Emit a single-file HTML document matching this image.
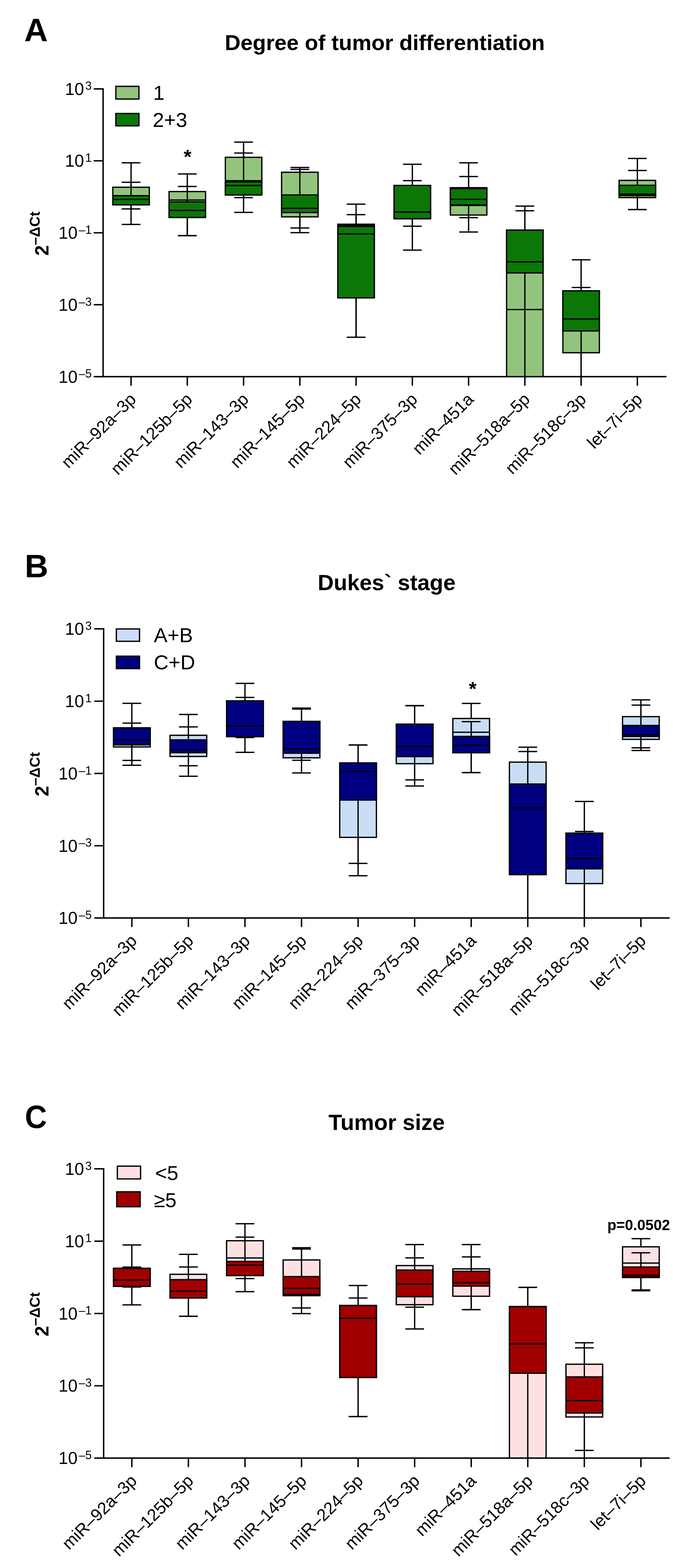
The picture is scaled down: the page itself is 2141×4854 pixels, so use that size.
<!DOCTYPE html>
<html><head><meta charset="utf-8"><title>Box plots</title>
<style>
html,body{margin:0;padding:0;background:#fff;}
body{width:2141px;height:4854px;overflow:hidden;}
svg{display:block;}
</style></head>
<body>
<svg width="2141" height="4854" viewBox="0 0 2141 4854" font-family="'Liberation Sans', Arial, Helvetica, sans-serif" fill="#000">
<rect width="2141" height="4854" fill="#fff"/>
<clipPath id="clipA"><rect x="319" y="0" width="1743" height="1166"/></clipPath>
<g clip-path="url(#clipA)">
<path d="M405.5 579.6V564.2M405.5 634.1V646.7" stroke="#000" stroke-width="4" fill="none"/>
<path d="M376.5 564.2H434.5M376.5 646.7H434.5" stroke="#000" stroke-width="4" fill="none"/>
<rect x="349.1" y="579.6" width="112.9" height="54.5" fill="#93C47D" stroke="#000" stroke-width="4"/>
<path d="M405.5 605.8V504.1M405.5 634.1V694.8" stroke="#000" stroke-width="4" fill="none"/>
<path d="M376.5 504.1H434.5M376.5 694.8H434.5" stroke="#000" stroke-width="4" fill="none"/>
<rect x="349.1" y="605.8" width="112.9" height="28.3" fill="#0B7707" stroke="#000" stroke-width="4"/>
<path d="M349.1 617.2H461.9" stroke="#000" stroke-width="4"/>
<path d="M579.5 593V577.3M579.5 673.2V729.4" stroke="#000" stroke-width="4" fill="none"/>
<path d="M550.5 577.3H608.5M550.5 729.4H608.5" stroke="#000" stroke-width="4" fill="none"/>
<rect x="523.1" y="593" width="112.9" height="80.2" fill="#93C47D" stroke="#000" stroke-width="4"/>
<path d="M523.1 619.3H636" stroke="#000" stroke-width="4"/>
<path d="M579.5 625V538.5M579.5 673.2V729.4" stroke="#000" stroke-width="4" fill="none"/>
<path d="M550.5 538.5H608.5M550.5 729.4H608.5" stroke="#000" stroke-width="4" fill="none"/>
<rect x="523.1" y="625" width="112.9" height="48.2" fill="#0B7707" stroke="#000" stroke-width="4"/>
<path d="M523.1 651.5H636" stroke="#000" stroke-width="4"/>
<path d="M753.6 487V473.8M753.6 603.5V611.8" stroke="#000" stroke-width="4" fill="none"/>
<path d="M724.6 473.8H782.6M724.6 611.8H782.6" stroke="#000" stroke-width="4" fill="none"/>
<rect x="697.2" y="487" width="112.9" height="116.5" fill="#93C47D" stroke="#000" stroke-width="4"/>
<path d="M697.2 559.5H810" stroke="#000" stroke-width="4"/>
<path d="M753.6 563V439.9M753.6 603.5V657.4" stroke="#000" stroke-width="4" fill="none"/>
<path d="M724.6 439.9H782.6M724.6 657.4H782.6" stroke="#000" stroke-width="4" fill="none"/>
<rect x="697.2" y="563" width="112.9" height="40.5" fill="#0B7707" stroke="#000" stroke-width="4"/>
<path d="M697.2 574.2H810" stroke="#000" stroke-width="4"/>
<path d="M927.7 533.2V524.6M927.7 671.3V705.8" stroke="#000" stroke-width="4" fill="none"/>
<path d="M898.7 524.6H956.7M898.7 705.8H956.7" stroke="#000" stroke-width="4" fill="none"/>
<rect x="871.2" y="533.2" width="112.9" height="138.1" fill="#93C47D" stroke="#000" stroke-width="4"/>
<path d="M927.7 603.5V518.5M927.7 658V720.3" stroke="#000" stroke-width="4" fill="none"/>
<path d="M898.7 518.5H956.7M898.7 720.3H956.7" stroke="#000" stroke-width="4" fill="none"/>
<rect x="871.2" y="603.5" width="112.9" height="54.5" fill="#0B7707" stroke="#000" stroke-width="4"/>
<path d="M871.2 645.1H984.1" stroke="#000" stroke-width="4"/>
<path d="M1101.7 694.1V664.4M1101.7 922.1V1043.9" stroke="#000" stroke-width="4" fill="none"/>
<path d="M1072.7 664.4H1130.7M1072.7 1043.9H1130.7" stroke="#000" stroke-width="4" fill="none"/>
<rect x="1045.3" y="694.1" width="112.9" height="228" fill="#93C47D" stroke="#000" stroke-width="4"/>
<path d="M1045.3 697.5H1158.1" stroke="#000" stroke-width="4"/>
<path d="M1101.7 700.8V631.9M1101.7 922.1V1043.9" stroke="#000" stroke-width="4" fill="none"/>
<path d="M1072.7 631.9H1130.7M1072.7 1043.9H1130.7" stroke="#000" stroke-width="4" fill="none"/>
<rect x="1045.3" y="700.8" width="112.9" height="221.3" fill="#0B7707" stroke="#000" stroke-width="4"/>
<path d="M1045.3 724H1158.1" stroke="#000" stroke-width="4"/>
<path d="M1275.8 574V559.2M1275.8 677.2V700.3" stroke="#000" stroke-width="4" fill="none"/>
<path d="M1246.8 559.2H1304.8M1246.8 700.3H1304.8" stroke="#000" stroke-width="4" fill="none"/>
<rect x="1219.3" y="574" width="112.9" height="103.2" fill="#93C47D" stroke="#000" stroke-width="4"/>
<path d="M1275.8 574V508.4M1275.8 677.2V774.3" stroke="#000" stroke-width="4" fill="none"/>
<path d="M1246.8 508.4H1304.8M1246.8 774.3H1304.8" stroke="#000" stroke-width="4" fill="none"/>
<rect x="1219.3" y="574" width="112.9" height="103.2" fill="#0B7707" stroke="#000" stroke-width="4"/>
<path d="M1219.3 656.6H1332.2" stroke="#000" stroke-width="4"/>
<path d="M1449.8 581V546.4M1449.8 665.7V673.8" stroke="#000" stroke-width="4" fill="none"/>
<path d="M1420.8 546.4H1478.8M1420.8 673.8H1478.8" stroke="#000" stroke-width="4" fill="none"/>
<rect x="1393.4" y="581" width="112.9" height="84.7" fill="#93C47D" stroke="#000" stroke-width="4"/>
<path d="M1393.4 636H1506.2" stroke="#000" stroke-width="4"/>
<path d="M1449.8 584V504M1449.8 634.5V718.3" stroke="#000" stroke-width="4" fill="none"/>
<path d="M1420.8 504H1478.8M1420.8 718.3H1478.8" stroke="#000" stroke-width="4" fill="none"/>
<rect x="1393.4" y="584" width="112.9" height="50.5" fill="#0B7707" stroke="#000" stroke-width="4"/>
<path d="M1393.4 616.9H1506.2" stroke="#000" stroke-width="4"/>
<path d="M1623.9 712.4V652.4M1623.9 1200V1200" stroke="#000" stroke-width="4" fill="none"/>
<path d="M1594.9 652.4H1652.9" stroke="#000" stroke-width="4" fill="none"/>
<rect x="1567.4" y="712.4" width="112.9" height="487.6" fill="#93C47D" stroke="#000" stroke-width="4"/>
<path d="M1567.4 958.3H1680.3" stroke="#000" stroke-width="4"/>
<path d="M1623.9 712.4V637.9M1623.9 844.9V1200" stroke="#000" stroke-width="4" fill="none"/>
<path d="M1594.9 637.9H1652.9" stroke="#000" stroke-width="4" fill="none"/>
<rect x="1567.4" y="712.4" width="112.9" height="132.5" fill="#0B7707" stroke="#000" stroke-width="4"/>
<path d="M1567.4 810.4H1680.3" stroke="#000" stroke-width="4"/>
<path d="M1797.9 900.4V889.9M1797.9 1092V1200" stroke="#000" stroke-width="4" fill="none"/>
<path d="M1768.9 889.9H1826.9" stroke="#000" stroke-width="4" fill="none"/>
<rect x="1741.5" y="900.4" width="112.9" height="191.6" fill="#93C47D" stroke="#000" stroke-width="4"/>
<path d="M1797.9 900.4V804.2M1797.9 1024.5V1200" stroke="#000" stroke-width="4" fill="none"/>
<path d="M1768.9 804.2H1826.9" stroke="#000" stroke-width="4" fill="none"/>
<rect x="1741.5" y="900.4" width="112.9" height="124.1" fill="#0B7707" stroke="#000" stroke-width="4"/>
<path d="M1741.5 987.6H1854.3" stroke="#000" stroke-width="4"/>
<path d="M1972 558.4V527.8M1972 611.7V648.8" stroke="#000" stroke-width="4" fill="none"/>
<path d="M1943 527.8H2001M1943 648.8H2001" stroke="#000" stroke-width="4" fill="none"/>
<rect x="1915.5" y="558.4" width="112.9" height="53.3" fill="#93C47D" stroke="#000" stroke-width="4"/>
<path d="M1972 573.7V490.4M1972 605.5V648.8" stroke="#000" stroke-width="4" fill="none"/>
<path d="M1943 490.4H2001M1943 648.8H2001" stroke="#000" stroke-width="4" fill="none"/>
<rect x="1915.5" y="573.7" width="112.9" height="31.8" fill="#0B7707" stroke="#000" stroke-width="4"/>
<path d="M1915.5 601H2028.4" stroke="#000" stroke-width="4"/>
</g>
<path d="M319 273V1166H2062" stroke="#000" stroke-width="4.4" fill="none"/>
<text x="283.7" y="293.7" text-anchor="end" font-size="53">10<tspan font-size="36" dx="3.6" dy="-15.3">3</tspan></text>
<text x="283.7" y="516.4" text-anchor="end" font-size="53">10<tspan font-size="36" dx="3.6" dy="-15.3">1</tspan></text>
<text x="283.7" y="739.1" text-anchor="end" font-size="53">10<tspan font-size="36" dx="3.6" dy="-15.3">–1</tspan></text>
<text x="283.7" y="961.8" text-anchor="end" font-size="53">10<tspan font-size="36" dx="3.6" dy="-15.3">–3</tspan></text>
<text x="283.7" y="1184.5" text-anchor="end" font-size="53">10<tspan font-size="36" dx="3.6" dy="-15.3">–5</tspan></text>
<path d="M290 275.2H319M290 497.9H319M290 720.6H319M290 943.3H319M290 1166H319M405.5 1166V1194M579.5 1166V1194M753.6 1166V1194M927.7 1166V1194M1101.7 1166V1194M1275.8 1166V1194M1449.8 1166V1194M1623.9 1166V1194M1797.9 1166V1194M1972 1166V1194" stroke="#000" stroke-width="4.4" fill="none"/>
<text transform="translate(424.2 1239.5) rotate(-45)" text-anchor="end" font-size="53">miR–92a–3p</text>
<text transform="translate(598.2 1239.5) rotate(-45)" text-anchor="end" font-size="53">miR–125b–5p</text>
<text transform="translate(772.3 1239.5) rotate(-45)" text-anchor="end" font-size="53">miR–143–3p</text>
<text transform="translate(946.4 1239.5) rotate(-45)" text-anchor="end" font-size="53">miR–145–5p</text>
<text transform="translate(1120.4 1239.5) rotate(-45)" text-anchor="end" font-size="53">miR–224–5p</text>
<text transform="translate(1294.5 1239.5) rotate(-45)" text-anchor="end" font-size="53">miR–375–3p</text>
<text transform="translate(1468.5 1239.5) rotate(-45)" text-anchor="end" font-size="53">miR–451a</text>
<text transform="translate(1642.6 1239.5) rotate(-45)" text-anchor="end" font-size="53">miR–518a–5p</text>
<text transform="translate(1816.6 1239.5) rotate(-45)" text-anchor="end" font-size="53">miR–518c–3p</text>
<text transform="translate(1990.7 1239.5) rotate(-45)" text-anchor="end" font-size="53">let–7i–5p</text>
<text transform="translate(149.5 723.1) rotate(-90)" text-anchor="middle" font-size="58.5" font-weight="bold">2<tspan font-size="44.7" dy="-26.8">–ΔCt</tspan></text>
<text x="1190.5" y="154.8" text-anchor="middle" font-size="67.5" font-weight="bold">Degree of tumor differentiation</text>
<text transform="translate(75 127.9) scale(1.0 1)" font-size="101" font-weight="bold">A</text>
<rect x="358.4" y="267.3" width="71.5" height="39.3" fill="#93C47D" stroke="#000" stroke-width="4"/>
<text x="474" y="309.4" font-size="63">1</text>
<rect x="358.4" y="351.3" width="71.5" height="38.2" fill="#0B7707" stroke="#000" stroke-width="4"/>
<text x="472.5" y="393" font-size="63">2+3</text>
<clipPath id="clipB"><rect x="320.7" y="0" width="1751.3" height="2841.8"/></clipPath>
<g clip-path="url(#clipB)">
<path d="M407.9 2253.1V2238.6M407.9 2312.3V2353.9" stroke="#000" stroke-width="4" fill="none"/>
<path d="M378.9 2238.6H436.9M378.9 2353.9H436.9" stroke="#000" stroke-width="4" fill="none"/>
<rect x="351.1" y="2253.1" width="113.5" height="59.2" fill="#C9DDF6" stroke="#000" stroke-width="4"/>
<path d="M407.9 2253.1V2177.3M407.9 2305.8V2369" stroke="#000" stroke-width="4" fill="none"/>
<path d="M378.9 2177.3H436.9M378.9 2369H436.9" stroke="#000" stroke-width="4" fill="none"/>
<rect x="351.1" y="2253.1" width="113.5" height="52.7" fill="#000080" stroke="#000" stroke-width="4"/>
<path d="M351.1 2291H464.7" stroke="#000" stroke-width="4"/>
<path d="M582.9 2276.2V2250.3M582.9 2341.8V2370.5" stroke="#000" stroke-width="4" fill="none"/>
<path d="M553.9 2250.3H611.9M553.9 2370.5H611.9" stroke="#000" stroke-width="4" fill="none"/>
<rect x="526.1" y="2276.2" width="113.5" height="65.6" fill="#C9DDF6" stroke="#000" stroke-width="4"/>
<path d="M582.9 2290.4V2211.8M582.9 2330.1V2403.1" stroke="#000" stroke-width="4" fill="none"/>
<path d="M553.9 2211.8H611.9M553.9 2403.1H611.9" stroke="#000" stroke-width="4" fill="none"/>
<rect x="526.1" y="2290.4" width="113.5" height="39.7" fill="#000080" stroke="#000" stroke-width="4"/>
<path d="M526.1 2321.5H639.7" stroke="#000" stroke-width="4"/>
<path d="M757.9 2169.7V2158.9M757.9 2280.3V2283.3" stroke="#000" stroke-width="4" fill="none"/>
<path d="M728.9 2158.9H786.9M728.9 2283.3H786.9" stroke="#000" stroke-width="4" fill="none"/>
<rect x="701.1" y="2169.7" width="113.5" height="110.6" fill="#C9DDF6" stroke="#000" stroke-width="4"/>
<path d="M757.9 2169.7V2115.4M757.9 2280.3V2329" stroke="#000" stroke-width="4" fill="none"/>
<path d="M728.9 2115.4H786.9M728.9 2329H786.9" stroke="#000" stroke-width="4" fill="none"/>
<rect x="701.1" y="2169.7" width="113.5" height="110.6" fill="#000080" stroke="#000" stroke-width="4"/>
<path d="M701.1 2247.6H814.7" stroke="#000" stroke-width="4"/>
<path d="M932.9 2233.1V2195M932.9 2345.9V2353.6" stroke="#000" stroke-width="4" fill="none"/>
<path d="M903.9 2195H961.9M903.9 2353.6H961.9" stroke="#000" stroke-width="4" fill="none"/>
<rect x="876.1" y="2233.1" width="113.5" height="112.8" fill="#C9DDF6" stroke="#000" stroke-width="4"/>
<path d="M932.9 2233.1V2192M932.9 2331.7V2392.7" stroke="#000" stroke-width="4" fill="none"/>
<path d="M903.9 2192H961.9M903.9 2392.7H961.9" stroke="#000" stroke-width="4" fill="none"/>
<rect x="876.1" y="2233.1" width="113.5" height="98.6" fill="#000080" stroke="#000" stroke-width="4"/>
<path d="M876.1 2318.8H989.7" stroke="#000" stroke-width="4"/>
<path d="M1107.9 2361.8V2306.3M1107.9 2592.2V2672.7" stroke="#000" stroke-width="4" fill="none"/>
<path d="M1078.9 2306.3H1136.9M1078.9 2672.7H1136.9" stroke="#000" stroke-width="4" fill="none"/>
<rect x="1051.1" y="2361.8" width="113.5" height="230.4" fill="#C9DDF6" stroke="#000" stroke-width="4"/>
<path d="M1107.9 2361.8V2306.3M1107.9 2476.7V2710.9" stroke="#000" stroke-width="4" fill="none"/>
<path d="M1078.9 2306.3H1136.9M1078.9 2710.9H1136.9" stroke="#000" stroke-width="4" fill="none"/>
<rect x="1051.1" y="2361.8" width="113.5" height="114.9" fill="#000080" stroke="#000" stroke-width="4"/>
<path d="M1051.1 2387.9H1164.7" stroke="#000" stroke-width="4"/>
<path d="M1282.9 2241.8V2184.4M1282.9 2364.1V2414.3" stroke="#000" stroke-width="4" fill="none"/>
<path d="M1253.9 2184.4H1311.9M1253.9 2414.3H1311.9" stroke="#000" stroke-width="4" fill="none"/>
<rect x="1226.1" y="2241.8" width="113.5" height="122.3" fill="#C9DDF6" stroke="#000" stroke-width="4"/>
<path d="M1282.9 2241.8V2184.4M1282.9 2342.2V2433.2" stroke="#000" stroke-width="4" fill="none"/>
<path d="M1253.9 2184.4H1311.9M1253.9 2433.2H1311.9" stroke="#000" stroke-width="4" fill="none"/>
<rect x="1226.1" y="2241.8" width="113.5" height="100.4" fill="#000080" stroke="#000" stroke-width="4"/>
<path d="M1226.1 2311.1H1339.7" stroke="#000" stroke-width="4"/>
<path d="M1457.9 2224.2V2177.4M1457.9 2330.2V2391.8" stroke="#000" stroke-width="4" fill="none"/>
<path d="M1428.9 2177.4H1486.9M1428.9 2391.8H1486.9" stroke="#000" stroke-width="4" fill="none"/>
<rect x="1401.1" y="2224.2" width="113.5" height="106" fill="#C9DDF6" stroke="#000" stroke-width="4"/>
<path d="M1401.1 2266.7H1514.7" stroke="#000" stroke-width="4"/>
<path d="M1457.9 2279.7V2234.1M1457.9 2330.2V2391.8" stroke="#000" stroke-width="4" fill="none"/>
<path d="M1428.9 2234.1H1486.9M1428.9 2391.8H1486.9" stroke="#000" stroke-width="4" fill="none"/>
<rect x="1401.1" y="2279.7" width="113.5" height="50.5" fill="#000080" stroke="#000" stroke-width="4"/>
<path d="M1401.1 2307.1H1514.7" stroke="#000" stroke-width="4"/>
<path d="M1632.9 2359.3V2313.1M1632.9 2707.5V2900" stroke="#000" stroke-width="4" fill="none"/>
<path d="M1603.9 2313.1H1661.9" stroke="#000" stroke-width="4" fill="none"/>
<rect x="1576.1" y="2359.3" width="113.5" height="348.2" fill="#C9DDF6" stroke="#000" stroke-width="4"/>
<path d="M1632.9 2427.1V2326.4M1632.9 2707.5V2900" stroke="#000" stroke-width="4" fill="none"/>
<path d="M1603.9 2326.4H1661.9" stroke="#000" stroke-width="4" fill="none"/>
<rect x="1576.1" y="2427.1" width="113.5" height="280.4" fill="#000080" stroke="#000" stroke-width="4"/>
<path d="M1576.1 2500.4H1689.7" stroke="#000" stroke-width="4"/>
<path d="M1807.9 2579V2481M1807.9 2735.2V2900" stroke="#000" stroke-width="4" fill="none"/>
<path d="M1778.9 2481H1836.9" stroke="#000" stroke-width="4" fill="none"/>
<rect x="1751.1" y="2579" width="113.5" height="156.2" fill="#C9DDF6" stroke="#000" stroke-width="4"/>
<path d="M1807.9 2579V2574.1M1807.9 2689.6V2900" stroke="#000" stroke-width="4" fill="none"/>
<path d="M1778.9 2574.1H1836.9" stroke="#000" stroke-width="4" fill="none"/>
<rect x="1751.1" y="2579" width="113.5" height="110.6" fill="#000080" stroke="#000" stroke-width="4"/>
<path d="M1751.1 2658.2H1864.7" stroke="#000" stroke-width="4"/>
<path d="M1982.9 2218.5V2166.4M1982.9 2288.8V2315" stroke="#000" stroke-width="4" fill="none"/>
<path d="M1953.9 2166.4H2011.9M1953.9 2315H2011.9" stroke="#000" stroke-width="4" fill="none"/>
<rect x="1926.1" y="2218.5" width="113.5" height="70.3" fill="#C9DDF6" stroke="#000" stroke-width="4"/>
<path d="M1982.9 2245.8V2182.7M1982.9 2280V2323.3" stroke="#000" stroke-width="4" fill="none"/>
<path d="M1953.9 2182.7H2011.9M1953.9 2323.3H2011.9" stroke="#000" stroke-width="4" fill="none"/>
<rect x="1926.1" y="2245.8" width="113.5" height="34.2" fill="#000080" stroke="#000" stroke-width="4"/>
<path d="M1926.1 2274H2039.7" stroke="#000" stroke-width="4"/>
</g>
<path d="M320.7 1944.6V2841.8H2072" stroke="#000" stroke-width="4.4" fill="none"/>
<text x="283.7" y="1965.3" text-anchor="end" font-size="53">10<tspan font-size="36" dx="3.6" dy="-15.3">3</tspan></text>
<text x="283.7" y="2189.1" text-anchor="end" font-size="53">10<tspan font-size="36" dx="3.6" dy="-15.3">1</tspan></text>
<text x="283.7" y="2412.8" text-anchor="end" font-size="53">10<tspan font-size="36" dx="3.6" dy="-15.3">–1</tspan></text>
<text x="283.7" y="2636.6" text-anchor="end" font-size="53">10<tspan font-size="36" dx="3.6" dy="-15.3">–3</tspan></text>
<text x="283.7" y="2860.3" text-anchor="end" font-size="53">10<tspan font-size="36" dx="3.6" dy="-15.3">–5</tspan></text>
<path d="M291.7 1946.8H320.7M291.7 2170.6H320.7M291.7 2394.3H320.7M291.7 2618.1H320.7M291.7 2841.8H320.7M407.9 2841.8V2869.8M582.9 2841.8V2869.8M757.9 2841.8V2869.8M932.9 2841.8V2869.8M1107.9 2841.8V2869.8M1282.9 2841.8V2869.8M1457.9 2841.8V2869.8M1632.9 2841.8V2869.8M1807.9 2841.8V2869.8M1982.9 2841.8V2869.8" stroke="#000" stroke-width="4.4" fill="none"/>
<text transform="translate(426.6 2915.3) rotate(-45)" text-anchor="end" font-size="53">miR–92a–3p</text>
<text transform="translate(601.6 2915.3) rotate(-45)" text-anchor="end" font-size="53">miR–125b–5p</text>
<text transform="translate(776.6 2915.3) rotate(-45)" text-anchor="end" font-size="53">miR–143–3p</text>
<text transform="translate(951.6 2915.3) rotate(-45)" text-anchor="end" font-size="53">miR–145–5p</text>
<text transform="translate(1126.6 2915.3) rotate(-45)" text-anchor="end" font-size="53">miR–224–5p</text>
<text transform="translate(1301.6 2915.3) rotate(-45)" text-anchor="end" font-size="53">miR–375–3p</text>
<text transform="translate(1476.6 2915.3) rotate(-45)" text-anchor="end" font-size="53">miR–451a</text>
<text transform="translate(1651.6 2915.3) rotate(-45)" text-anchor="end" font-size="53">miR–518a–5p</text>
<text transform="translate(1826.6 2915.3) rotate(-45)" text-anchor="end" font-size="53">miR–518c–3p</text>
<text transform="translate(2001.6 2915.3) rotate(-45)" text-anchor="end" font-size="53">let–7i–5p</text>
<text transform="translate(149.5 2396.8) rotate(-90)" text-anchor="middle" font-size="58.5" font-weight="bold">2<tspan font-size="44.7" dy="-26.8">–ΔCt</tspan></text>
<text x="1196.3" y="1826.9" text-anchor="middle" font-size="68.5" font-weight="bold">Dukes` stage</text>
<text transform="translate(76.5 1787.3) scale(1.0 1)" font-size="101" font-weight="bold">B</text>
<rect x="360" y="1947.1" width="71.7" height="38.2" fill="#C9DDF6" stroke="#000" stroke-width="4"/>
<text x="476" y="1988.4" font-size="63">A+B</text>
<rect x="360" y="2031.3" width="71.7" height="38.5" fill="#000080" stroke="#000" stroke-width="4"/>
<text x="476" y="2072.2" font-size="63">C+D</text>
<clipPath id="clipC"><rect x="320.7" y="0" width="1751.3" height="4513.8"/></clipPath>
<g clip-path="url(#clipC)">
<path d="M407.9 3926.3V3922.6M407.9 3982.1V3984.2" stroke="#000" stroke-width="4" fill="none"/>
<path d="M378.9 3922.6H436.9M378.9 3984.2H436.9" stroke="#000" stroke-width="4" fill="none"/>
<rect x="351.1" y="3926.3" width="113.5" height="55.8" fill="#FDE1E2" stroke="#000" stroke-width="4"/>
<path d="M407.9 3926.3V3853.9M407.9 3982.1V4039.4" stroke="#000" stroke-width="4" fill="none"/>
<path d="M378.9 3853.9H436.9M378.9 4039.4H436.9" stroke="#000" stroke-width="4" fill="none"/>
<rect x="351.1" y="3926.3" width="113.5" height="55.8" fill="#A00000" stroke="#000" stroke-width="4"/>
<path d="M351.1 3962.4H464.7" stroke="#000" stroke-width="4"/>
<path d="M582.9 3944.8V3922.3M582.9 4018.1V4074.8" stroke="#000" stroke-width="4" fill="none"/>
<path d="M553.9 3922.3H611.9M553.9 4074.8H611.9" stroke="#000" stroke-width="4" fill="none"/>
<rect x="526.1" y="3944.8" width="113.5" height="73.3" fill="#FDE1E2" stroke="#000" stroke-width="4"/>
<path d="M582.9 3961.4V3882.9M582.9 4018.1V4074.8" stroke="#000" stroke-width="4" fill="none"/>
<path d="M553.9 3882.9H611.9M553.9 4074.8H611.9" stroke="#000" stroke-width="4" fill="none"/>
<rect x="526.1" y="3961.4" width="113.5" height="56.7" fill="#A00000" stroke="#000" stroke-width="4"/>
<path d="M526.1 3997.2H639.7" stroke="#000" stroke-width="4"/>
<path d="M757.9 3840.9V3829.8M757.9 3948.7V3958" stroke="#000" stroke-width="4" fill="none"/>
<path d="M728.9 3829.8H786.9M728.9 3958H786.9" stroke="#000" stroke-width="4" fill="none"/>
<rect x="701.1" y="3840.9" width="113.5" height="107.8" fill="#FDE1E2" stroke="#000" stroke-width="4"/>
<path d="M701.1 3894.2H814.7" stroke="#000" stroke-width="4"/>
<path d="M757.9 3905V3788.2M757.9 3948.7V3998.6" stroke="#000" stroke-width="4" fill="none"/>
<path d="M728.9 3788.2H786.9M728.9 3998.6H786.9" stroke="#000" stroke-width="4" fill="none"/>
<rect x="701.1" y="3905" width="113.5" height="43.7" fill="#A00000" stroke="#000" stroke-width="4"/>
<path d="M701.1 3916.7H814.7" stroke="#000" stroke-width="4"/>
<path d="M932.9 3900.4V3862.5M932.9 4011V4048.9" stroke="#000" stroke-width="4" fill="none"/>
<path d="M903.9 3862.5H961.9M903.9 4048.9H961.9" stroke="#000" stroke-width="4" fill="none"/>
<rect x="876.1" y="3900.4" width="113.5" height="110.6" fill="#FDE1E2" stroke="#000" stroke-width="4"/>
<path d="M932.9 3951.8V3866.5M932.9 4007V4066.4" stroke="#000" stroke-width="4" fill="none"/>
<path d="M903.9 3866.5H961.9M903.9 4066.4H961.9" stroke="#000" stroke-width="4" fill="none"/>
<rect x="876.1" y="3951.8" width="113.5" height="55.2" fill="#A00000" stroke="#000" stroke-width="4"/>
<path d="M876.1 3988.2H989.7" stroke="#000" stroke-width="4"/>
<path d="M1107.9 4041.4V4018.3M1107.9 4264.2V4385.2" stroke="#000" stroke-width="4" fill="none"/>
<path d="M1078.9 4018.3H1136.9M1078.9 4385.2H1136.9" stroke="#000" stroke-width="4" fill="none"/>
<rect x="1051.1" y="4041.4" width="113.5" height="222.8" fill="#FDE1E2" stroke="#000" stroke-width="4"/>
<path d="M1107.9 4041.4V3979.4M1107.9 4264.2V4385.2" stroke="#000" stroke-width="4" fill="none"/>
<path d="M1078.9 3979.4H1136.9M1078.9 4385.2H1136.9" stroke="#000" stroke-width="4" fill="none"/>
<rect x="1051.1" y="4041.4" width="113.5" height="222.8" fill="#A00000" stroke="#000" stroke-width="4"/>
<path d="M1051.1 4081.1H1164.7" stroke="#000" stroke-width="4"/>
<path d="M1282.9 3917.8V3894.1M1282.9 4038.9V4046.6" stroke="#000" stroke-width="4" fill="none"/>
<path d="M1253.9 3894.1H1311.9M1253.9 4046.6H1311.9" stroke="#000" stroke-width="4" fill="none"/>
<rect x="1226.1" y="3917.8" width="113.5" height="121.1" fill="#FDE1E2" stroke="#000" stroke-width="4"/>
<path d="M1282.9 3931.7V3852.8M1282.9 4014.2V4114.1" stroke="#000" stroke-width="4" fill="none"/>
<path d="M1253.9 3852.8H1311.9M1253.9 4114.1H1311.9" stroke="#000" stroke-width="4" fill="none"/>
<rect x="1226.1" y="3931.7" width="113.5" height="82.5" fill="#A00000" stroke="#000" stroke-width="4"/>
<path d="M1226.1 3975.1H1339.7" stroke="#000" stroke-width="4"/>
<path d="M1457.9 3928V3891M1457.9 4012.7V4054.3" stroke="#000" stroke-width="4" fill="none"/>
<path d="M1428.9 3891H1486.9M1428.9 4054.3H1486.9" stroke="#000" stroke-width="4" fill="none"/>
<rect x="1401.1" y="3928" width="113.5" height="84.7" fill="#FDE1E2" stroke="#000" stroke-width="4"/>
<path d="M1457.9 3935.7V3852.8M1457.9 3981.3V4054.3" stroke="#000" stroke-width="4" fill="none"/>
<path d="M1428.9 3852.8H1486.9M1428.9 4054.3H1486.9" stroke="#000" stroke-width="4" fill="none"/>
<rect x="1401.1" y="3935.7" width="113.5" height="45.6" fill="#A00000" stroke="#000" stroke-width="4"/>
<path d="M1401.1 3970.8H1514.7" stroke="#000" stroke-width="4"/>
<path d="M1632.9 4044.7V3985.3M1632.9 4600V4600" stroke="#000" stroke-width="4" fill="none"/>
<path d="M1603.9 3985.3H1661.9" stroke="#000" stroke-width="4" fill="none"/>
<rect x="1576.1" y="4044.7" width="113.5" height="555.3" fill="#FDE1E2" stroke="#000" stroke-width="4"/>
<path d="M1632.9 4044.7V3985.3M1632.9 4251V4600" stroke="#000" stroke-width="4" fill="none"/>
<path d="M1603.9 3985.3H1661.9" stroke="#000" stroke-width="4" fill="none"/>
<rect x="1576.1" y="4044.7" width="113.5" height="206.3" fill="#A00000" stroke="#000" stroke-width="4"/>
<path d="M1576.1 4160.2H1689.7" stroke="#000" stroke-width="4"/>
<path d="M1807.9 4223.2V4156.7M1807.9 4386.5V4490.1" stroke="#000" stroke-width="4" fill="none"/>
<path d="M1778.9 4156.7H1836.9M1778.9 4490.1H1836.9" stroke="#000" stroke-width="4" fill="none"/>
<rect x="1751.1" y="4223.2" width="113.5" height="163.3" fill="#FDE1E2" stroke="#000" stroke-width="4"/>
<path d="M1807.9 4262.4V4172.4M1807.9 4374.2V4600" stroke="#000" stroke-width="4" fill="none"/>
<path d="M1778.9 4172.4H1836.9" stroke="#000" stroke-width="4" fill="none"/>
<rect x="1751.1" y="4262.4" width="113.5" height="111.8" fill="#A00000" stroke="#000" stroke-width="4"/>
<path d="M1751.1 4336H1864.7" stroke="#000" stroke-width="4"/>
<path d="M1982.9 3859.7V3834.4M1982.9 3954.8V3993.2" stroke="#000" stroke-width="4" fill="none"/>
<path d="M1953.9 3834.4H2011.9M1953.9 3993.2H2011.9" stroke="#000" stroke-width="4" fill="none"/>
<rect x="1926.1" y="3859.7" width="113.5" height="95.1" fill="#FDE1E2" stroke="#000" stroke-width="4"/>
<path d="M1926.1 3910H2039.7" stroke="#000" stroke-width="4"/>
<path d="M1982.9 3922.3V3878.3M1982.9 3953V3995.8" stroke="#000" stroke-width="4" fill="none"/>
<path d="M1953.9 3878.3H2011.9M1953.9 3995.8H2011.9" stroke="#000" stroke-width="4" fill="none"/>
<rect x="1926.1" y="3922.3" width="113.5" height="30.7" fill="#A00000" stroke="#000" stroke-width="4"/>
<path d="M1926.1 3947.4H2039.7" stroke="#000" stroke-width="4"/>
</g>
<path d="M320.7 3616.1V4513.8H2072" stroke="#000" stroke-width="4.4" fill="none"/>
<text x="283.7" y="3636.8" text-anchor="end" font-size="53">10<tspan font-size="36" dx="3.6" dy="-15.3">3</tspan></text>
<text x="283.7" y="3860.7" text-anchor="end" font-size="53">10<tspan font-size="36" dx="3.6" dy="-15.3">1</tspan></text>
<text x="283.7" y="4084.6" text-anchor="end" font-size="53">10<tspan font-size="36" dx="3.6" dy="-15.3">–1</tspan></text>
<text x="283.7" y="4308.4" text-anchor="end" font-size="53">10<tspan font-size="36" dx="3.6" dy="-15.3">–3</tspan></text>
<text x="283.7" y="4532.3" text-anchor="end" font-size="53">10<tspan font-size="36" dx="3.6" dy="-15.3">–5</tspan></text>
<path d="M291.7 3618.3H320.7M291.7 3842.2H320.7M291.7 4066.1H320.7M291.7 4289.9H320.7M291.7 4513.8H320.7M407.9 4513.8V4541.8M582.9 4513.8V4541.8M757.9 4513.8V4541.8M932.9 4513.8V4541.8M1107.9 4513.8V4541.8M1282.9 4513.8V4541.8M1457.9 4513.8V4541.8M1632.9 4513.8V4541.8M1807.9 4513.8V4541.8M1982.9 4513.8V4541.8" stroke="#000" stroke-width="4.4" fill="none"/>
<text transform="translate(426.6 4587.3) rotate(-45)" text-anchor="end" font-size="53">miR–92a–3p</text>
<text transform="translate(601.6 4587.3) rotate(-45)" text-anchor="end" font-size="53">miR–125b–5p</text>
<text transform="translate(776.6 4587.3) rotate(-45)" text-anchor="end" font-size="53">miR–143–3p</text>
<text transform="translate(951.6 4587.3) rotate(-45)" text-anchor="end" font-size="53">miR–145–5p</text>
<text transform="translate(1126.6 4587.3) rotate(-45)" text-anchor="end" font-size="53">miR–224–5p</text>
<text transform="translate(1301.6 4587.3) rotate(-45)" text-anchor="end" font-size="53">miR–375–3p</text>
<text transform="translate(1476.6 4587.3) rotate(-45)" text-anchor="end" font-size="53">miR–451a</text>
<text transform="translate(1651.6 4587.3) rotate(-45)" text-anchor="end" font-size="53">miR–518a–5p</text>
<text transform="translate(1826.6 4587.3) rotate(-45)" text-anchor="end" font-size="53">miR–518c–3p</text>
<text transform="translate(2001.6 4587.3) rotate(-45)" text-anchor="end" font-size="53">let–7i–5p</text>
<text transform="translate(149.5 4068.6) rotate(-90)" text-anchor="middle" font-size="58.5" font-weight="bold">2<tspan font-size="44.7" dy="-26.8">–ΔCt</tspan></text>
<text x="1196.3" y="3497.5" text-anchor="middle" font-size="69.2" font-weight="bold">Tumor size</text>
<text transform="translate(77 3492.3) scale(0.935 1)" font-size="101" font-weight="bold">C</text>
<rect x="363.1" y="3610" width="71.8" height="39.5" fill="#FDE1E2" stroke="#000" stroke-width="4"/>
<text x="480" y="3652.5" font-size="63">&lt;5</text>
<rect x="361.2" y="3689.4" width="72.5" height="46.2" fill="#A00000" stroke="#000" stroke-width="4"/>
<text x="476.5" y="3737" font-size="63">≥5</text>
<text x="580.3" y="505.5" text-anchor="middle" font-size="62" font-weight="bold">*</text>
<text x="1462.5" y="2152.8" text-anchor="middle" font-size="62" font-weight="bold">*</text>
<text x="1879" y="3808.2" font-size="45.6" font-weight="bold">p=0.0502</text>
</svg>
</body></html>
